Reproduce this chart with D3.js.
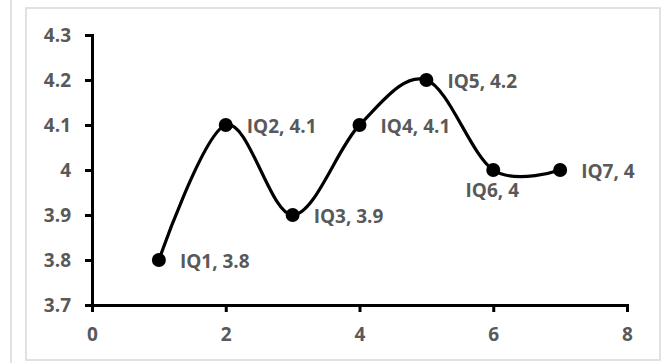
<!DOCTYPE html>
<html>
<head>
<meta charset="utf-8">
<script src="https://cdn.jsdelivr.net/npm/d3@7"></script>
<style>
  body { margin: 0; background: #fff; }
  svg { display: block; }
</style>
</head>
<body>
<div id="chart"></div>
<script>
// Data
const labels = ["IQ1", "IQ2", "IQ3", "IQ4", "IQ5", "IQ6", "IQ7"];
const xValues = [1, 2, 3, 4, 5, 6, 7];
const yValues = [3.8, 4.1, 3.9, 4.1, 4.2, 4, 4];
const xTicks = [0, 2, 4, 6, 8];
const yTicks = [3.7, 3.8, 3.9, 4, 4.1, 4.2, 4.3];

const W = 662, H = 363;
const TEXT = "#595959";
const FONT = "'Open Sans', 'Liberation Sans', sans-serif";
const FS = 19;

const svg = d3.select("#chart").append("svg")
    .attr("width", W)
    .attr("height", H);

// frames
svg.append("line")
    .attr("x1", 11).attr("x2", 11).attr("y1", 0).attr("y2", H)
    .attr("stroke", "#d9d9d9").attr("stroke-width", 1.5);
svg.append("rect")
    .attr("x", 26).attr("y", 8)
    .attr("width", 634).attr("height", 352)
    .attr("fill", "#fff")
    .attr("stroke", "#d9d9d9").attr("stroke-width", 1.5);

const x = d3.scaleLinear().domain([0, 8]).range([92, 627]);
const y = d3.scaleLinear().domain([3.7, 4.3]).range([305, 35]);

function styleAxis(g) {
    g.select(".domain").attr("stroke", "#000").attr("stroke-width", 3);
    g.selectAll(".tick line").attr("stroke", "#000").attr("stroke-width", 3);
    g.selectAll(".tick text")
        .attr("fill", TEXT).attr("font-family", FONT)
        .attr("font-size", FS).attr("font-weight", "bold");
}

// Y axis
svg.append("g")
    .attr("transform", "translate(92,0)")
    .call(d3.axisLeft(y).tickValues(yTicks).tickSize(7).tickPadding(14)
        .tickFormat(d => String(+d.toFixed(1))))
    .call(styleAxis);

// X axis
svg.append("g")
    .attr("transform", "translate(0,305)")
    .call(d3.axisBottom(x).tickValues(xTicks).tickSize(7).tickPadding(16))
    .call(styleAxis);

const points = xValues.map((v, i) => ({ x: v, y: yValues[i], label: labels[i] }));

// Smoothed line
const line = d3.line()
    .x(d => x(d.x))
    .y(d => y(d.y))
    .curve(d3.curveCardinal.tension(0));

svg.append("path")
    .datum(points)
    .attr("d", line)
    .attr("fill", "none")
    .attr("stroke", "#000")
    .attr("stroke-width", 3.2);

svg.selectAll("circle.pt")
    .data(points)
    .join("circle")
    .attr("class", "pt")
    .attr("cx", d => x(d.x))
    .attr("cy", d => y(d.y))
    .attr("r", 7)
    .attr("fill", "#000");

// Data labels (IQ6 sits below its point, others to the right)
svg.selectAll("text.lbl")
    .data(points)
    .join("text")
    .attr("class", "lbl")
    .attr("x", d => d.label === "IQ6" ? x(d.x) - 1 : x(d.x) + 21)
    .attr("y", d => d.label === "IQ6" ? y(d.y) + 20 : y(d.y) + 1)
    .attr("dy", "0.35em")
    .attr("text-anchor", d => d.label === "IQ6" ? "middle" : "start")
    .attr("fill", TEXT)
    .attr("font-family", FONT)
    .attr("font-size", FS)
    .attr("font-weight", "bold")
    .text(d => `${d.label}, ${d.y}`);
</script>
</body>
</html>
